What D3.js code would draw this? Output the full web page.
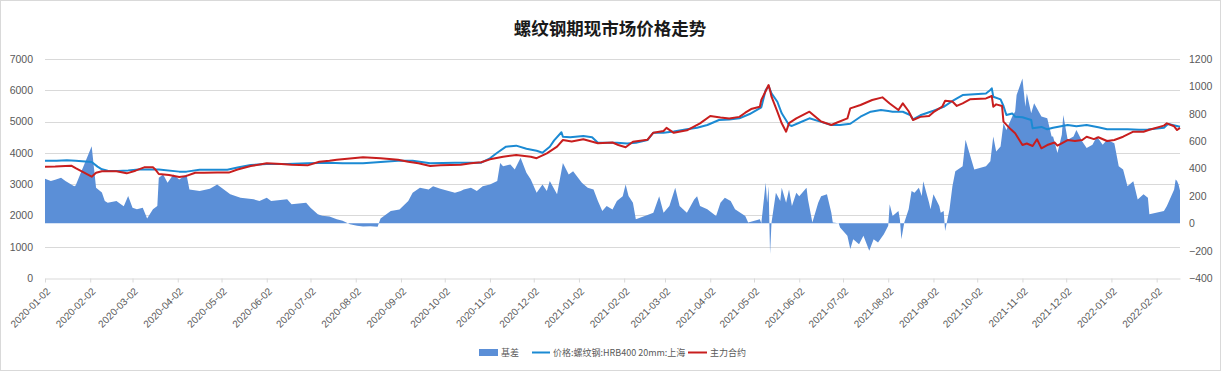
<!DOCTYPE html>
<html><head><meta charset="utf-8">
<script src="https://cdn.jsdelivr.net/npm/d3@7"></script>
<style>
html,body{margin:0;padding:0;background:#fff;}
svg{display:block;}
text{font-family:"Liberation Sans",Arial,sans-serif;}
.cjk{font-family:"Noto Sans CJK SC","Noto Sans",sans-serif;}
</style></head>
<body>
<svg id="chart" width="1221" height="371"></svg>
<script>
const title = "螺纹钢期现市场价格走势";
const seriesNames = ["基差", "价格:螺纹钢:HRB400 20mm:上海", "主力合约"];

const xTickLabels = ["2020-01-02","2020-02-02","2020-03-02","2020-04-02","2020-05-02","2020-06-02","2020-07-02","2020-08-02","2020-09-02","2020-10-02","2020-11-02","2020-12-02","2021-01-02","2021-02-02","2021-03-02","2021-04-02","2021-05-02","2021-06-02","2021-07-02","2021-08-02","2021-09-02","2021-10-02","2021-11-02","2021-12-02","2022-01-02","2022-02-02"];
const leftTicks = [0,1000,2000,3000,4000,5000,6000,7000];
const rightTicks = [-400,-200,0,200,400,600,800,1000,1200];
const dateDomain = ["2020-01-02","2022-02-18"];

// 基差 (right axis)
const basisDates = ["2020-01-02","2020-01-06","2020-01-09","2020-01-13","2020-01-16","2020-01-20","2020-01-22","2020-01-23","2020-02-03","2020-02-06","2020-02-10","2020-02-12","2020-02-14","2020-02-20","2020-02-23","2020-02-25","2020-02-28","2020-03-02","2020-03-05","2020-03-09","2020-03-12","2020-03-16","2020-03-19","2020-03-20","2020-03-23","2020-03-26","2020-03-30","2020-04-03","2020-04-08","2020-04-10","2020-04-17","2020-04-24","2020-04-27","2020-04-29","2020-05-08","2020-05-15","2020-05-24","2020-05-28","2020-06-02","2020-06-05","2020-06-16","2020-06-19","2020-06-29","2020-07-02","2020-07-07","2020-07-10","2020-07-15","2020-07-20","2020-07-24","2020-07-29","2020-08-03","2020-08-07","2020-08-12","2020-08-17","2020-08-19","2020-08-26","2020-09-01","2020-09-07","2020-09-10","2020-09-15","2020-09-21","2020-09-24","2020-09-29","2020-10-09","2020-10-13","2020-10-15","2020-10-20","2020-10-24","2020-10-28","2020-11-02","2020-11-07","2020-11-09","2020-11-11","2020-11-16","2020-11-19","2020-11-23","2020-11-27","2020-11-30","2020-12-04","2020-12-08","2020-12-11","2020-12-13","2020-12-18","2020-12-22","2020-12-26","2020-12-29","2021-01-04","2021-01-08","2021-01-12","2021-01-15","2021-01-18","2021-01-21","2021-01-25","2021-01-28","2021-02-01","2021-02-03","2021-02-05","2021-02-08","2021-02-10","2021-02-18","2021-02-22","2021-02-26","2021-03-01","2021-03-05","2021-03-09","2021-03-12","2021-03-17","2021-03-22","2021-03-24","2021-03-26","2021-03-31","2021-04-06","2021-04-09","2021-04-12","2021-04-16","2021-04-19","2021-04-26","2021-04-28","2021-05-06","2021-05-07","2021-05-10","2021-05-11","2021-05-12","2021-05-13","2021-05-14","2021-05-17","2021-05-20","2021-05-21","2021-05-24","2021-05-26","2021-05-28","2021-05-31","2021-06-02","2021-06-07","2021-06-08","2021-06-11","2021-06-15","2021-06-17","2021-06-21","2021-06-24","2021-06-25","2021-06-29","2021-06-30","2021-07-05","2021-07-07","2021-07-09","2021-07-13","2021-07-16","2021-07-20","2021-07-23","2021-07-26","2021-07-30","2021-08-02","2021-08-03","2021-08-05","2021-08-09","2021-08-10","2021-08-11","2021-08-13","2021-08-16","2021-08-18","2021-08-20","2021-08-23","2021-08-25","2021-08-26","2021-08-30","2021-08-31","2021-09-02","2021-09-06","2021-09-07","2021-09-09","2021-09-10","2021-09-13","2021-09-15","2021-09-17","2021-09-22","2021-09-24","2021-09-28","2021-09-30","2021-10-08","2021-10-11","2021-10-13","2021-10-15","2021-10-18","2021-10-20","2021-10-22","2021-10-26","2021-10-28","2021-10-29","2021-11-02","2021-11-04","2021-11-05","2021-11-08","2021-11-10","2021-11-15","2021-11-19","2021-11-22","2021-11-23","2021-11-26","2021-11-29","2021-11-30","2021-12-03","2021-12-07","2021-12-09","2021-12-13","2021-12-16","2021-12-20","2021-12-23","2021-12-27","2021-12-30","2022-01-04","2022-01-07","2022-01-10","2022-01-13","2022-01-17","2022-01-20","2022-01-24","2022-01-27","2022-01-28","2022-02-07","2022-02-09","2022-02-14","2022-02-15","2022-02-16","2022-02-17","2022-02-18"];
const basisValues = [325,308,318,332,308,284,271,275,562,259,225,162,150,162,138,125,199,114,103,114,34,103,126,332,356,295,356,320,356,247,235,252,271,284,211,187,175,162,187,162,175,138,150,114,65,55,50,30,18,-7,-19,-24,-22,-26,34,89,101,162,223,259,247,271,252,223,235,247,259,235,271,284,308,441,417,429,392,478,369,320,223,284,235,308,211,441,356,380,295,259,247,162,89,126,101,162,198,283,200,150,29,60,77,198,77,126,259,126,77,174,198,126,102,53,150,186,162,102,53,5,29,0,295,150,271,-225,5,223,162,259,150,247,126,223,198,259,174,5,150,198,211,77,5,0,-31,-92,-189,-116,-153,-92,-201,-116,-140,-80,-19,138,53,90,29,-116,5,102,235,223,259,199,307,150,102,211,126,77,90,-56,102,271,380,416,610,464,392,416,453,634,525,561,731,682,779,816,937,1058,852,949,803,876,779,767,634,634,513,646,791,610,634,682,598,549,573,634,573,610,585,416,392,271,307,174,211,186,65,90,126,247,320,308,283,240];

// 价格:螺纹钢:HRB400 20mm:上海 (left axis)
const spotDates = ["2020-01-02","2020-01-10","2020-01-17","2020-01-23","2020-02-03","2020-02-07","2020-02-10","2020-02-14","2020-02-21","2020-02-28","2020-03-06","2020-03-20","2020-04-03","2020-04-08","2020-04-17","2020-05-06","2020-05-13","2020-05-22","2020-06-02","2020-06-16","2020-06-30","2020-07-14","2020-07-24","2020-08-07","2020-08-31","2020-09-10","2020-09-22","2020-10-09","2020-10-27","2020-11-02","2020-11-07","2020-11-13","2020-11-20","2020-11-27","2020-12-04","2020-12-08","2020-12-13","2020-12-16","2020-12-21","2020-12-22","2020-12-27","2021-01-05","2021-01-11","2021-01-15","2021-01-21","2021-01-28","2021-02-04","2021-02-10","2021-02-18","2021-02-22","2021-03-01","2021-03-08","2021-03-17","2021-03-24","2021-03-31","2021-04-08","2021-04-15","2021-04-22","2021-04-29","2021-05-07","2021-05-10","2021-05-12","2021-05-14","2021-05-18","2021-05-21","2021-05-26","2021-05-28","2021-06-02","2021-06-09","2021-06-17","2021-06-24","2021-06-30","2021-07-07","2021-07-14","2021-07-21","2021-07-28","2021-08-02","2021-08-05","2021-08-12","2021-08-17","2021-08-19","2021-08-24","2021-09-02","2021-09-09","2021-09-16","2021-09-22","2021-10-08","2021-10-11","2021-10-12","2021-10-13","2021-10-18","2021-10-20","2021-10-22","2021-10-26","2021-10-28","2021-11-02","2021-11-08","2021-11-09","2021-11-15","2021-11-19","2021-11-23","2021-12-03","2021-12-09","2021-12-16","2021-12-24","2021-12-30","2022-01-13","2022-01-21","2022-01-27","2022-02-07","2022-02-09","2022-02-10","2022-02-18"];
const spotValues = [3750,3750,3760,3750,3710,3560,3474,3430,3420,3440,3470,3470,3400,3400,3460,3460,3530,3611,3643,3643,3665,3685,3665,3665,3749,3749,3665,3685,3685,3825,4005,4197,4230,4130,4069,4005,4197,4400,4660,4516,4500,4538,4500,4324,4324,4324,4300,4320,4410,4644,4644,4680,4752,4800,4890,5050,5070,5104,5241,5455,6009,6136,5900,5634,5263,4890,4860,4963,5104,4990,4890,4890,4930,5155,5315,5370,5340,5315,5315,5210,5071,5200,5347,5470,5689,5849,5900,6009,6062,5795,5710,5497,5210,5260,5155,5140,5050,4784,4830,4752,4800,4890,4850,4890,4820,4752,4752,4740,4750,4800,4890,4920,4836];

// 主力合约 (left axis)
const futDates = ["2020-01-02","2020-01-09","2020-01-16","2020-01-20","2020-01-23","2020-02-03","2020-02-06","2020-02-10","2020-02-20","2020-02-27","2020-03-04","2020-03-10","2020-03-16","2020-03-18","2020-03-20","2020-03-27","2020-04-03","2020-04-07","2020-04-14","2020-04-20","2020-04-29","2020-05-07","2020-05-13","2020-05-22","2020-06-02","2020-06-12","2020-06-19","2020-06-30","2020-07-08","2020-07-15","2020-07-20","2020-08-07","2020-08-19","2020-08-31","2020-09-07","2020-09-14","2020-09-22","2020-09-29","2020-10-13","2020-10-20","2020-10-27","2020-11-02","2020-11-11","2020-11-20","2020-11-30","2020-12-04","2020-12-11","2020-12-18","2020-12-22","2020-12-28","2021-01-05","2021-01-15","2021-01-25","2021-01-29","2021-02-03","2021-02-08","2021-02-18","2021-02-22","2021-03-01","2021-03-03","2021-03-08","2021-03-17","2021-03-26","2021-04-02","2021-04-09","2021-04-15","2021-04-22","2021-04-26","2021-04-30","2021-05-06","2021-05-07","2021-05-12","2021-05-13","2021-05-14","2021-05-18","2021-05-21","2021-05-24","2021-05-26","2021-05-31","2021-06-09","2021-06-17","2021-06-24","2021-06-28","2021-07-05","2021-07-07","2021-07-14","2021-07-22","2021-07-29","2021-08-03","2021-08-09","2021-08-12","2021-08-16","2021-08-19","2021-08-24","2021-08-30","2021-09-02","2021-09-08","2021-09-10","2021-09-15","2021-09-18","2021-09-22","2021-09-27","2021-10-08","2021-10-12","2021-10-13","2021-10-15","2021-10-19","2021-10-20","2021-10-25","2021-10-28","2021-11-02","2021-11-05","2021-11-09","2021-11-12","2021-11-15","2021-11-19","2021-11-24","2021-11-26","2021-12-03","2021-12-08","2021-12-13","2021-12-16","2021-12-21","2021-12-24","2021-12-30","2022-01-04","2022-01-10","2022-01-17","2022-01-24","2022-01-28","2022-02-07","2022-02-09","2022-02-14","2022-02-16","2022-02-18"];
const futValues = [3557,3560,3580,3590,3510,3240,3366,3410,3410,3345,3430,3537,3537,3450,3324,3290,3230,3250,3366,3366,3370,3370,3470,3580,3665,3640,3620,3600,3717,3749,3780,3857,3830,3780,3717,3665,3580,3600,3620,3665,3700,3793,3878,3931,3878,3830,3985,4200,4410,4360,4433,4305,4330,4250,4177,4356,4420,4644,4700,4800,4640,4720,4944,5178,5130,5100,5150,5283,5400,5475,5689,6168,6000,5795,5315,4944,4676,4950,5104,5315,5000,4890,4970,5100,5423,5529,5689,5774,5580,5369,5583,5330,5050,5150,5180,5300,5475,5667,5640,5500,5583,5710,5740,5817,5475,5550,5500,4997,4752,4624,4250,4300,4220,4433,4145,4250,4330,4230,4410,4380,4410,4516,4440,4500,4380,4410,4516,4676,4676,4740,4870,4944,4850,4730,4800];

const colors = {area:"#5b8fd7", spot:"#1b8ad3", fut:"#c81e1e", grid:"#d9d9d9", text:"#595959"};

const parse = d3.utcParse("%Y-%m-%d");
const svg = d3.select("#chart");
const W = 1221, H = 371;
const M = {left:45, right:1180, top:59, bottom:278};

svg.append("rect").attr("x",0.5).attr("y",0.5).attr("width",W-1).attr("height",H-1)
  .attr("fill","#fff").attr("stroke","#d9d9d9");

const x = d3.scaleUtc().domain(dateDomain.map(parse)).range([M.left, M.right]);
const yL = d3.scaleLinear().domain([0,7000]).range([M.bottom, M.top]);
const yR = d3.scaleLinear().domain([-400,1200]).range([M.bottom, M.top]);

// gridlines
svg.append("g").selectAll("line").data(leftTicks.filter(d=>d>0)).join("line")
  .attr("x1",M.left).attr("x2",M.right)
  .attr("y1",d=>Math.round(yL(d))+0.5).attr("y2",d=>Math.round(yL(d))+0.5)
  .attr("stroke",colors.grid).attr("stroke-width",1);

// area
const basis = basisDates.map((d,i)=>({d:parse(d), v:basisValues[i]}));
svg.append("path").datum(basis)
  .attr("fill",colors.area)
  .attr("d", d3.area().x(p=>x(p.d)).y0(yR(0)).y1(p=>yR(p.v)));

// lines
const spot = spotDates.map((d,i)=>({d:parse(d), v:spotValues[i]}));
const fut = futDates.map((d,i)=>({d:parse(d), v:futValues[i]}));
const line = d3.line().x(p=>x(p.d)).y(p=>yL(p.v));
svg.append("path").datum(spot).attr("fill","none").attr("stroke",colors.spot)
  .attr("stroke-width",2).attr("stroke-linejoin","round").attr("d",line);
svg.append("path").datum(fut).attr("fill","none").attr("stroke",colors.fut)
  .attr("stroke-width",2).attr("stroke-linejoin","round").attr("d",line);

// x axis
const xAxis = svg.append("g").attr("transform",`translate(0,${M.bottom+0.5})`)
  .call(d3.axisBottom(x).tickValues(xTickLabels.map(parse))
    .tickFormat(d3.utcFormat("%Y-%m-%d")).tickSize(4).tickSizeOuter(0));
xAxis.select(".domain").attr("stroke",colors.grid);
xAxis.selectAll(".tick line").attr("stroke",colors.grid);
xAxis.selectAll("text")
  .attr("fill",colors.text).attr("font-size","10px")
  .attr("text-anchor","end").attr("x",0).attr("y",0).attr("dy","0.35em")
  .attr("transform","translate(3,11) rotate(-45)");

// left axis
const la = svg.append("g").attr("transform",`translate(${M.left},0)`)
  .call(d3.axisLeft(yL).tickValues(leftTicks).tickSize(0).tickPadding(12).tickFormat(d3.format("d")));
la.select(".domain").remove();
la.selectAll("text").attr("fill",colors.text).attr("font-size","10.5px");

// right axis
const ra = svg.append("g").attr("transform",`translate(${M.right},0)`)
  .call(d3.axisRight(yR).tickValues(rightTicks).tickSize(0).tickPadding(9).tickFormat(d3.format("d")));
ra.select(".domain").remove();
ra.selectAll("text").attr("fill",colors.text).attr("font-size","10.5px");

// title
svg.append("text").attr("class","cjk").attr("x",610).attr("y",35)
  .attr("text-anchor","middle").attr("font-size","17.5px").attr("font-weight","bold")
  .attr("fill","#1a1a1a").text(title);

// legend
const lg = svg.append("g").attr("class","cjk").attr("font-size","9px").attr("fill",colors.text);
lg.append("rect").attr("x",479).attr("y",349).attr("width",19).attr("height",7).attr("fill",colors.area);
lg.append("text").attr("class","cjk").attr("x",501).attr("y",356).text(seriesNames[0]);
lg.append("line").attr("x1",532).attr("x2",550).attr("y1",352.5).attr("y2",352.5).attr("stroke",colors.spot).attr("stroke-width",2);
lg.append("text").attr("class","cjk").attr("x",553).attr("y",356).text(seriesNames[1]);
lg.append("line").attr("x1",688).attr("x2",707).attr("y1",352.5).attr("y2",352.5).attr("stroke",colors.fut).attr("stroke-width",2);
lg.append("text").attr("class","cjk").attr("x",710).attr("y",356).text(seriesNames[2]);
</script>
</body></html>
